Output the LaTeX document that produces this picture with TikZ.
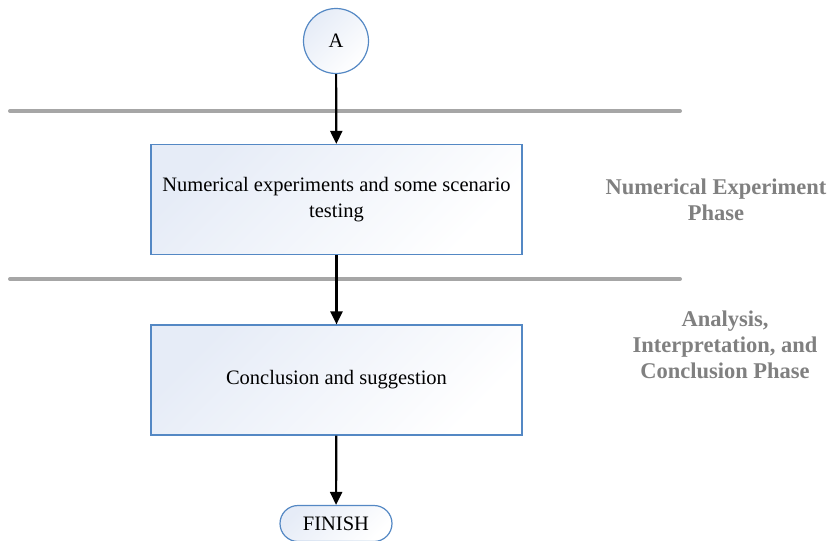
\documentclass[tikz,border=0pt]{standalone}
\usepackage{fontspec}
\setmainfont{Liberation Serif}
\usetikzlibrary{arrows.meta,shapes.misc}
\definecolor{edgeblue}{RGB}{84,136,196}
\definecolor{fillblue}{RGB}{230,236,247}
\definecolor{lanegray}{RGB}{166,166,166}
\definecolor{phasegray}{RGB}{128,128,128}
\tikzset{
	body/.style={font=\fontsize{20.5}{26}\selectfont},
	stepbox/.style={draw=edgeblue,line width=1.2pt,top color=fillblue,bottom color=white,shading angle=45,minimum width=371pt,minimum height=110pt,align=center,body},
	conn/.style={draw=edgeblue,line width=1.2pt,top color=fillblue,bottom color=white,shading angle=45,circle,minimum size=65pt,inner sep=0pt,body},
	term/.style={draw=edgeblue,line width=1.2pt,top color=fillblue,bottom color=white,shading angle=45,rounded rectangle,minimum width=112pt,minimum height=36pt,inner sep=0pt,body},
	lane/.style={lanegray,line width=4pt,line cap=round},
	phase/.style={text=phasegray,align=center,font=\fontsize{22.5}{26}\selectfont\bfseries},
	flow/.style={line width=2.2pt,-{Triangle[length=13pt,width=12pt]}}
}
\begin{document}
\begin{tikzpicture}[x=1pt,y=-1pt]
	\useasboundingbox (0,0) rectangle (831,541);
	
	\draw [lane] (10,111) -- (680,111);
	\draw [lane] (10,279) -- (680,279);
	
	\node [conn] (A) at (336,41) {A};
	\node [stepbox] (num) at (336.5,199.5) {Numerical experiments and some scenario\\testing};
	\node [stepbox] (concl) at (336.5,380) {Conclusion and suggestion};
	\node [term] (finish) at (336,523.5) {FINISH};
	
	\node [phase] (ph1) at (716,200) {Numerical Experiment\\Phase};
	\node [phase] (ph2) at (725,345) {Analysis,\\Interpretation, and\\Conclusion Phase};
	
	\draw [flow] (A) -- (num);
	\draw [flow] (num) -- (concl);
	\draw [flow] (concl) -- (finish);
\end{tikzpicture}
\end{document}
